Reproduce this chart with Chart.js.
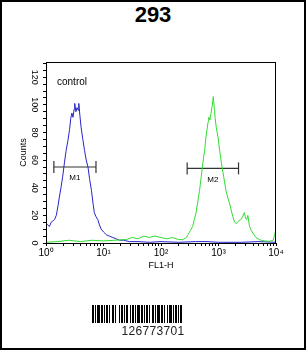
<!DOCTYPE html>
<html>
<head>
<meta charset="utf-8">
<script src="https://cdn.jsdelivr.net/npm/chart.js@4.4.1/dist/chart.umd.min.js"></script>
<style>
  html, body { margin: 0; padding: 0; background: #fff; }
  #frame { position: absolute; left: 0; top: 0; width: 306px; height: 350px; box-sizing: border-box; border: 2px solid #000; }
  #title { position: absolute; left: 0; width: 306px; top: 2px; text-align: center; font: bold 22px "Liberation Sans", Arial, sans-serif; color: #000; }
  #c { position: absolute; left: 0; top: 0; }
  #barcode { position: absolute; left: 92px; top: 305px; height: 18px; width: 116px; display: flex; }
  #barcode span { display: block; height: 18px; }
  #code { position: absolute; left: 0; width: 306px; top: 324px; text-align: center; font: 12px "Liberation Sans", Arial, sans-serif; color: #222; letter-spacing: 0.3px; }
</style>
</head>
<body>
<div id="frame"></div>
<div id="title">293</div>
<canvas id="c" width="306" height="350"></canvas>
<div id="barcode"></div>
<div id="code">126773701</div>
<script>
// ---- data (FL1-H value, counts) ----
const xTickValues = [1, 10, 100, 1000, 10000];
const xTickLabels = ["10\u2070", "10\u00B9", "10\u00B2", "10\u00B3", "10\u2074"];
const yTickValues = [0, 20, 40, 60, 80, 100, 120];

const controlX = [1.00,1.02,1.07,1.15,1.23,1.32,1.41,1.51,1.62,1.72,1.82,1.95,2.09,2.24,2.40,2.57,2.69,2.82,2.95,3.09,3.16,3.31,3.47,3.63,3.72,3.89,4.07,4.37,4.68,5.01,5.37,5.75,6.17,6.61,6.92,7.41,7.94,8.51,9.12,10.0,11.2,12.6,14.5,16.6,19.1,22.4,28.2,39.8,63,100,200,400,630,1000,2510,5010,10000];
const controlY = [73,14,13,12,15,16,17,20,27,34,40,48,58,67,74,82,90,94,91,97,101,95,98,96,101,92,84,75,67,60,55,46,38,28,22,19,17,13,10,8,6,5,4,3,2,2,1,1,0.5,1,0.5,1,1,0.5,0.5,1,0.5];

const sampleX = [1,1.58,2.5,4,6.3,10,15.8,25,31.6,39.8,50,63,79,100,126,158,200,240,275,295,324,355,380,407,437,468,501,525,550,575,603,631,661,676,708,741,776,813,851,871,912,977,1047,1122,1230,1349,1445,1549,1660,1778,1905,2042,2239,2455,2630,2818,2951,3090,3236,3467,3715,3981,4467,5129,6310,7762,8913,9772];
const sampleY = [0.5,1,2,1,2,1.5,2,2.5,4,3,5,4,5,4,3,4,2.5,2.4,4,6,9,12,17,22,30,38,48,55,62,67,76,82,88,91,89,94,99,106,96,91,84,77,67,58,48,38,33,29,24,19,15,14,16,17,19,22,18,17,20,12,9,7,4,2.4,1.5,1.2,2,8];

const markerM1 = [1.37, 7.4];
const markerM2 = [285, 2230];
const markerM1Y = 55;
const markerM2Y = 54;
const markerNames = ["M1", "M2"];

const toPts = (xs, ys) => xs.map((x, i) => ({x: x, y: ys[i]}));

const minorX = [];
for (let d = 1; d < 10000; d *= 10) for (let k = 1; k < 10; k++) minorX.push(d * k);
minorX.push(10000);
const minorY = [];
for (let v = 0; v <= 130; v += 5) minorY.push(v);

const FONT = "'Liberation Sans', Arial, sans-serif";

const boxPlugin = {
  id: 'box',
  afterDraw(chart) {
    const {ctx, chartArea: a} = chart;
    ctx.save();
    ctx.strokeStyle = '#000';
    ctx.lineWidth = 1;
    ctx.strokeRect(a.left + 0.5, a.top + 0.5, a.right - a.left - 1, a.bottom - a.top);
    ctx.fillStyle = '#000';
    ctx.font = "10px " + FONT;
    ctx.textBaseline = 'middle';
    ctx.fillText('control', a.left + 11, a.top + 20);
    ctx.font = "8px " + FONT;
    ctx.textAlign = 'center';
    const xs = chart.scales.x, ys = chart.scales.y;
    const ms = [[markerM1, markerM1Y], [markerM2, markerM2Y]];
    ms.forEach((m, i) => {
      const cx = (xs.getPixelForValue(m[0][0]) + xs.getPixelForValue(m[0][1])) / 2;
      const cy = ys.getPixelForValue(m[1]);
      ctx.fillText(markerNames[i], cx, cy + 11);
    });
    ctx.restore();
  }
};

new Chart(document.getElementById('c'), {
  type: 'line',
  data: {
    datasets: [
      { data: toPts(sampleX, sampleY), borderColor: '#2fdc2f', borderWidth: 1, pointRadius: 0, tension: 0 },
      { data: toPts(controlX, controlY), borderColor: '#2525c8', borderWidth: 1, pointRadius: 0, tension: 0 },
      { data: toPts(markerM1, [markerM1Y, markerM1Y]), borderColor: '#333', borderWidth: 1.2, pointStyle: 'line', rotation: 90, pointRadius: 6, pointBorderColor: '#333', pointBorderWidth: 1.2 },
      { data: toPts(markerM2, [markerM2Y, markerM2Y]), borderColor: '#333', borderWidth: 1.2, pointStyle: 'line', rotation: 90, pointRadius: 6, pointBorderColor: '#333', pointBorderWidth: 1.2 }
    ]
  },
  options: {
    responsive: false,
    animation: false,
    events: [],
    layout: { padding: { left: 18, top: 62, right: 30, bottom: 79 } },
    plugins: { legend: { display: false }, tooltip: { enabled: false }, title: { display: false } },
    scales: {
      x: {
        type: 'logarithmic', min: 1, max: 10000,
        afterBuildTicks: s => { s.ticks = minorX.map(v => ({value: v})); },
        afterFit: s => { s.height = 28; },
        grid: { drawOnChartArea: false, drawTicks: true, tickLength: 3, color: '#000' },
        border: { display: false },
        ticks: {
          autoSkip: false, maxRotation: 0, minRotation: 0, padding: 1,
          color: '#000', font: { family: FONT, size: 10 },
          callback: v => { const i = xTickValues.indexOf(v); return i >= 0 ? xTickLabels[i] : ''; }
        },
        title: { display: true, text: 'FL1-H', color: '#000', font: { family: FONT, size: 9 }, padding: { top: 0, bottom: 0 } }
      },
      y: {
        min: 0, max: 131,
        afterBuildTicks: s => { s.ticks = minorY.map(v => ({value: v})); },
        afterFit: s => { s.width = 28; },
        grid: { drawOnChartArea: false, drawTicks: true, tickLength: 3, color: '#000' },
        border: { display: false },
        ticks: {
          autoSkip: false, minRotation: -90, maxRotation: -90, padding: 1, crossAlign: 'center',
          color: '#000', font: { family: FONT, size: 9 },
          callback: v => yTickValues.includes(v) ? String(v) : ''
        },
        title: { display: true, text: 'Counts', color: '#000', font: { family: FONT, size: 9 }, padding: { top: 0, bottom: 0 } }
      }
    }
  },
  plugins: [boxPlugin]
});

// barcode (decorative bars)
const barPattern = "2111312111211221131121112211211131211121122111312112113111211121";
const bc = document.getElementById('barcode');
let black = true;
for (const ch of barPattern) {
  const s = document.createElement('span');
  s.style.width = ch + 'px';
  s.style.background = black ? '#000' : '#fff';
  bc.appendChild(s);
  black = !black;
}
</script>
</body>
</html>
